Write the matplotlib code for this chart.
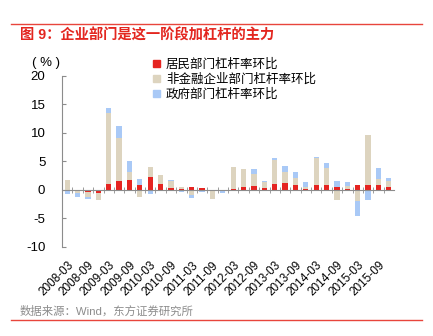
import matplotlib
matplotlib.use("Agg")
import matplotlib.pyplot as plt
from matplotlib.patches import Patch
import numpy as np

plt.rcParams['font.family'] = ['Liberation Sans', 'Noto Sans CJK SC']
plt.rcParams['axes.unicode_minus'] = False

## Data (quarter-on-quarter change in leverage, %)
quarters = [f"{y}-{m}" for y in range(2008, 2016) for m in ("03", "06", "09", "12")]
household = [0.0, -0.1, -0.3, -0.5, 1.0, 1.6, 1.8, 0.9, 2.2, 1.1, 0.4, 0.1,
             0.5, 0.3, 0.0, -0.1, 0.2, 0.55, 0.75, 0.35, 1.05, 1.2, 0.95, 0.25,
             0.95, 0.8, 0.5, 0.25, 0.9, 0.95, 0.95, 0.6]
corporate = [1.7, -0.4, -0.9, -1.2, 12.5, 7.5, 1.3, -1.2, 1.9, 1.5, 1.1, 0.5,
             -0.9, 0.1, -1.6, 0.0, 3.8, 3.1, 2.1, 1.1, 4.25, 1.9, 1.1, 0.3,
             4.6, 3.0, -1.7, 0.4, -2.0, 8.7, 1.05, 1.0]
government = [-0.7, -0.8, -0.4, -0.1, 0.8, 2.1, 2.0, 1.0, -0.7, 0.05, 0.2, -0.3,
              -0.5, -0.3, 0.0, -0.35, -0.2, 0.0, 0.8, 0.15, 0.3, 1.1, 1.1, 0.8,
              0.25, 1.0, 1.1, 0.8, -2.6, -1.8, 1.9, 0.55]
series_names = ["居民部门杠杆率环比", "非金融企业部门杠杆率环比", "政府部门杠杆率环比"]
colors = ["#e52421", "#ddd4bf", "#a9c9f6"]

fig = plt.figure(figsize=(4.33, 3.36), dpi=100)
ax = fig.add_axes([0.1432, 0.265, 0.7668, 0.509])

x = np.arange(len(quarters))
pos_base = np.zeros(len(quarters))
neg_base = np.zeros(len(quarters))
for vals, c in zip([household, corporate, government], colors):
    v = np.array(vals)
    bottom = np.where(v >= 0, pos_base, neg_base)
    ax.bar(x, v, width=0.5, bottom=bottom, color=c, zorder=2)
    pos_base = pos_base + np.clip(v, 0, None)
    neg_base = neg_base + np.clip(v, None, 0)

ax.set_xlim(-0.5, len(quarters) - 0.5)
ax.set_ylim(-10, 20)
ax.set_yticks(range(-10, 21, 5))

for s in ["top", "right"]:
    ax.spines[s].set_visible(False)
ax.spines["left"].set_color("#8c8c8c")
ax.spines["bottom"].set_position(("data", 0))
ax.spines["bottom"].set_color("#8c8c8c")
ax.spines["bottom"].set_zorder(3)

ax.tick_params(axis="y", direction="in", length=3, color="#8c8c8c", labelsize=9.5, pad=12)
ax.set_xticks(x[::2])
ax.set_xticklabels(quarters[::2], rotation=45, ha="right", rotation_mode="anchor", fontsize=8.5)
ax.set_xticks(x[:-1] + 0.5, minor=True)
ax.tick_params(axis="x", which="major", length=0, pad=50)
ax.tick_params(axis="x", which="minor", direction="inout", length=5, color="#8c8c8c")

ax.text(-0.09, 1.075, "( % )", transform=ax.transAxes, fontsize=9.5, va="center", ha="left")

handles = [Patch(color=c) for c in colors]
ax.legend(handles, series_names, loc="upper left", bbox_to_anchor=(0.26, 1.13),
          frameon=False, fontsize=9, handlelength=0.5, handleheight=0.5,
          handletextpad=0.5, labelspacing=0.2, borderaxespad=0)

# title, source and red rules
fig.add_artist(plt.Line2D([0.025, 0.975], [1 - 24 / 336] * 2, color="#e8453c", lw=1))
fig.text(0.046, 1 - 36 / 336, "图 9：企业部门是这一阶段加杠杆的主力", color="#e3261f",
         fontsize=10.3, fontweight="bold", va="center")
fig.text(0.046, 1 - 311 / 336, "数据来源：Wind，东方证券研究所", color="#8c8c8c",
         fontsize=8.2, va="center")
fig.add_artist(plt.Line2D([0.025, 0.975], [1 - 320 / 336] * 2, color="#e8453c", lw=1))

plt.savefig("out.png", dpi=100)
